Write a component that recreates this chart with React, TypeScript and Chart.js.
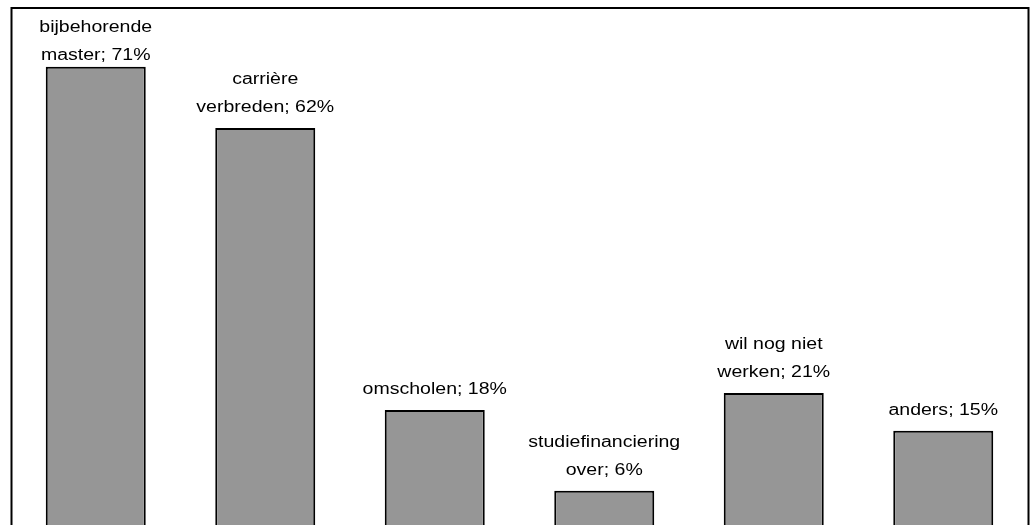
import React, { useEffect, useRef } from "react";
import { Chart, registerables } from "chart.js";

Chart.register(...registerables);

const categoryLines: string[][] = [
  ["bijbehorende", "master"],
  ["carrière", "verbreden"],
  ["omscholen"],
  ["studiefinanciering", "over"],
  ["wil nog niet", "werken"],
  ["anders"],
];
const values: number[] = [71.0, 61.6, 18.4, 6.0, 21.0, 15.2];
const yMax = 80;

const categories = categoryLines.map((l) => l.join(" "));

const labelPlugin = {
  id: "barLabels",
  afterDatasetsDraw(chart: any) {
    const ctx = chart.ctx;
    const meta = chart.getDatasetMeta(0);
    ctx.save();
    ctx.fillStyle = "#000";
    ctx.font = '16px "Liberation Sans", Arial, sans-serif';
    ctx.textAlign = "center";
    ctx.textBaseline = "alphabetic";
    meta.data.forEach((bar: any, i: number) => {
      const lines = categoryLines[i].slice();
      lines[lines.length - 1] = lines[lines.length - 1] + "; " + Math.round(values[i]) + "%";
      const lineH = 28;
      let base = bar.y - 16;
      const minBase = chart.chartArea.top + 24 + (lines.length - 1) * lineH;
      if (base < minBase) base = minBase;
      lines.forEach((t: string, j: number) => {
        const yy = base - (lines.length - 1 - j) * lineH;
        ctx.save();
        ctx.translate(bar.x, yy);
        ctx.scale(1.22, 1);
        ctx.fillText(t, 0, 0);
        ctx.restore();
      });
    });
    ctx.restore();
  },
};

const borderPlugin = {
  id: "plotBorder",
  afterDraw(chart: any) {
    const { left, right, top, bottom } = chart.chartArea;
    const ctx = chart.ctx;
    ctx.save();
    ctx.strokeStyle = "#000";
    ctx.lineWidth = 2;
    ctx.strokeRect(left + 0.5, top, right - left, bottom - top + 20);
    ctx.restore();
  },
};

export default function App() {
  const ref = useRef<HTMLCanvasElement | null>(null);
  useEffect(() => {
    if (!ref.current) return;
    const chart = new Chart(ref.current, {
      type: "bar",
      data: {
        labels: categories,
        datasets: [
          {
            data: values,
            backgroundColor: "#969696",
            borderColor: "#000000",
            borderWidth: 2,
            borderSkipped: false,
            barPercentage: 0.59,
            categoryPercentage: 1,
          },
        ],
      },
      options: {
        responsive: false,
        animation: false,
        devicePixelRatio: 1,
        layout: { padding: { left: 11, right: 4, top: 8, bottom: 15 } },
        plugins: {
          legend: { display: false },
          tooltip: { enabled: false },
        },
        scales: {
          x: { display: false, grid: { display: false } },
          y: { display: false, min: 0, max: yMax, grid: { display: false } },
        },
      },
      plugins: [labelPlugin, borderPlugin],
    });
    return () => chart.destroy();
  }, []);
  return (
    <div
      style={{
        position: "absolute",
        left: 0,
        top: 0,
        width: 1032,
        height: 525,
        overflow: "hidden",
        background: "#fff",
      }}
    >
      <canvas ref={ref} width={1032} height={545} style={{ display: "block" }} />
    </div>
  );
}
